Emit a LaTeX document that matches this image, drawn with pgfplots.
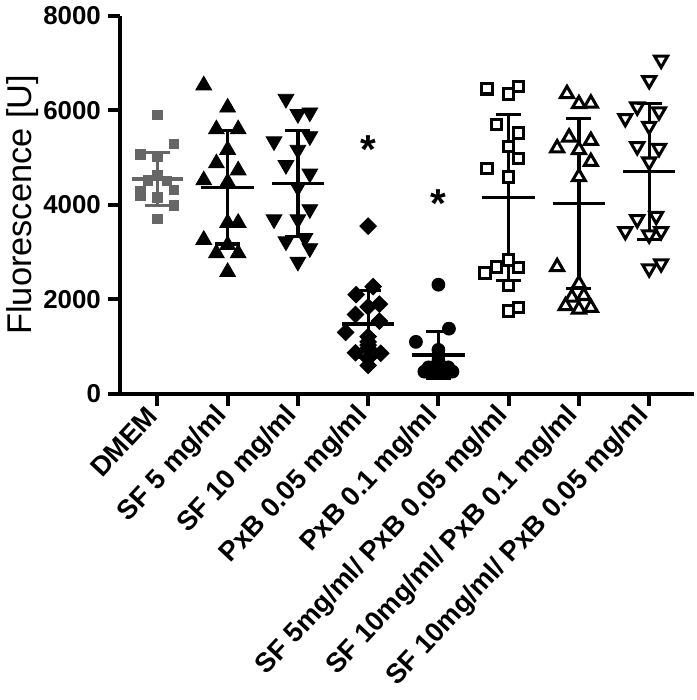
\documentclass[border=0pt]{standalone}
\usepackage{fontspec}
\setmainfont{Liberation Sans}
\usepackage{pgfplots}
\pgfplotsset{compat=1.18}
\definecolor{dmem}{RGB}{102,102,102}
\begin{document}
\begin{tikzpicture}
\begin{axis}[
  scale only axis, width=284pt, height=187pt,
  xmin=-0.53, xmax=7.64, ymin=0, ymax=8000,
  axis x line=bottom, axis y line=left,
  axis line style={-, line width=2pt, black},
  xtick={0,...,7},
  xticklabels={DMEM, SF 5 mg/ml, SF 10 mg/ml, PxB 0.05 mg/ml, PxB 0.1 mg/ml, SF 5mg/ml/ PxB 0.05 mg/ml, SF 10mg/ml/ PxB 0.1 mg/ml, SF 10mg/ml/ PxB 0.05 mg/ml},
  ytick={0,2000,4000,6000,8000},
  tick style={black, line width=2pt},
  major tick length=6pt, tick align=outside,
  x tick label style={rotate=47, anchor=east, font=\fontsize{13.5}{15}\selectfont\bfseries},
  y tick label style={font=\fontsize{12.8}{14}\selectfont\bfseries},
  /pgf/number format/assume math mode=true,
  /pgf/number format/1000 sep={},
  scaled y ticks=false,
  ylabel={Fluorescence [U]},
  ylabel style={font=\fontsize{17}{20}\selectfont, yshift=-4.6pt},
  clip=false,
]
% DMEM
\addplot[only marks, mark=square*, mark size=2.3pt, color=dmem] coordinates {
(0,5905) (0.24,5290) (-0.24,5070) (0,5020) (0,4630) (-0.14,4520) (0.14,4500)
(-0.24,4300) (-0.24,4200) (0.24,4320) (0,4160) (0.24,3990) (0,3710)};
% SF 5
\addplot[only marks, mark=triangle*, mark size=4.5pt, color=black] coordinates {
(0.66,6530) (1,6060) (0.84,5600) (1.15,5600) (1,5165) (0.84,4880) (1.15,4730) (0.66,4520)
(1,4480) (1,3620) (1.15,3620) (0.66,3260) (0.84,2975) (1.15,2975) (1,3150) (1,2580)};
% SF 10
\addplot[only marks, mark=triangle*, mark size=4.5pt, mark options={rotate=180}, color=black] coordinates {
(1.83,6243) (2,5920) (2.17,5955) (1.66,5344) (2.17,5452) (2,5165) (1.83,4842) (2.17,4662)
(2,4375) (2.17,3907) (1.66,3692) (2,3692) (1.83,3226) (2.1,3297) (2.17,3082) (2,2795)};
% PxB 0.05
\addplot[only marks, mark=square*, mark size=2.9pt, mark options={rotate=45}, color=black] coordinates {
(3,3550) (2.83,2100) (3.07,2270) (3.16,1900) (3,1840) (2.82,1680) (3.16,1540) (2.68,1300)
(3,1210) (3,1100) (2.82,870) (3.18,860) (3,965) (3,750) (3,600) (3,1030)};
% PxB 0.1
\addplot[only marks, mark=*, mark size=3.2pt, color=black] coordinates {
(4,2310) (4.15,1380) (3.68,1100) (4,930) (4,800) (4,700) (3.86,560) (4.14,560)
(4,620) (3.8,470) (4.2,470) (3.93,460) (4.07,460) (4,500)};
% SF 5 / PxB 0.05
\addplot[only marks, mark=square*, mark size=2.6pt, mark options={fill=white, draw=black, line width=1.5pt}] coordinates {
(4.69,6458) (5,6351) (5.14,6508) (4.83,5704) (5.14,5524) (5,5237) (5.14,4985) (4.69,4769)
(5,4590) (5,2830) (4.83,2687) (5.14,2672) (4.66,2558) (5,2291) (5,1752) (5.14,1825)};
% SF 10 / PxB 0.1
\addplot[only marks, mark=triangle*, mark size=3.7pt, mark options={fill=white, draw=black, line width=1.5pt}] coordinates {
(5.83,6351) (6,6135) (6.17,6149) (5.86,5430) (6.17,5359) (5.69,5201) (6,5165) (6.17,4913)
(6,4590) (5.69,2687) (6,2327) (5.9,2040) (6.07,2076) (5.81,1860) (6,1789) (6.17,1825)};
% SF 10 / PxB 0.05
\addplot[only marks, mark=triangle*, mark size=3.7pt, mark options={rotate=180, fill=white, draw=black, line width=1.5pt}] coordinates {
(7.17,7068) (7,6637) (6.66,5833) (6.83,6077) (7.14,5976) (7,5668) (6.83,5237) (7.14,5200)
(7,4913) (6.66,3441) (6.83,3692) (7.1,3764) (7.17,3441) (7,3368) (7,2651) (7.17,2758)};
% DMEM mean +- SD (grey)
\addplot[dmem, line width=1.6pt] coordinates {(0,3980) (0,5110)};
\addplot[only marks, dmem, mark=-, mark size=6.2pt, mark options={line width=1.6pt}] coordinates {(0,3980) (0,5110)};
\addplot[only marks, dmem, mark=-, mark size=12.5pt, mark options={line width=1.6pt}] coordinates {(0,4545)};
% SD bars
\addplot[black, line width=1.6pt, unbounded coords=jump] coordinates {
(1,3170) (1,5570) (1,nan)
(2,3325) (2,5575) (2,nan)
(3,780) (3,2180) (3,nan)
(4,320) (4,1320) (4,nan)
(5,2405) (5,5905) (5,nan)
(6,2225) (6,5835) (6,nan)
(7,3260) (7,6140)};
% SD caps
\addplot[only marks, black, mark=-, mark size=6.2pt, mark options={line width=1.6pt}] coordinates {
(1,3170) (1,5570) (2,3325) (2,5575) (3,780) (3,2180)
(4,320) (4,1320) (5,2405) (5,5905) (6,2225) (6,5835) (7,3260) (7,6140)};
% means
\addplot[only marks, black, mark=-, mark size=13pt, mark options={line width=1.6pt}] coordinates {
(1,4370) (2,4450) (3,1480) (4,820) (5,4155) (6,4030) (7,4700)};
\node[font=\fontsize{20}{21}\selectfont\bfseries] at (axis cs:3,5370) [yshift=-4.5pt] {*};
\node[font=\fontsize{20}{21}\selectfont\bfseries] at (axis cs:4,4210) [yshift=-4.5pt] {*};
\end{axis}
\end{tikzpicture}
\end{document}
